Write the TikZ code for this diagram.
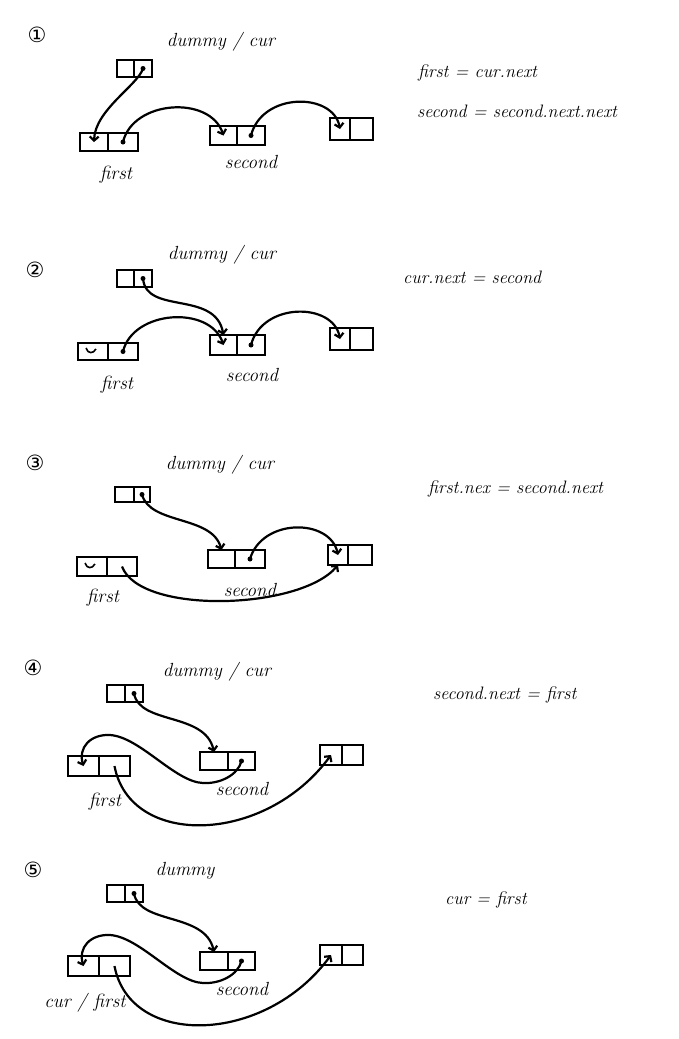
\documentclass[tikz,border=0pt]{standalone}
\usepackage{fontspec}
\newfontfamily\symfont{DejaVu Sans}
\usetikzlibrary{arrows.meta}
\tikzset{
  cell/.style={draw, line width=2pt, inner sep=0pt, outer sep=0pt},
  ptr/.style={line width=2.2pt, -{Straight Barb[length=4pt,width=9pt]}},
  lbl/.style={font=\fontsize{19}{22}\selectfont\itshape, inner sep=0pt},
  eqn/.style={font=\fontsize{18}{21}\selectfont\itshape, inner sep=0pt, anchor=west},
  num/.style={font=\symfont\fontsize{21}{24}\selectfont, inner sep=0pt},
  remnant/.style={line width=1.6pt},
}
% name, left x, divider x, right x, top y, bottom y
\newcommand{\mkbox}[6]{%
  \node[cell, minimum width={(#3)-(#2)}, minimum height={(#6)-(#5)}] (#1a) at ({((#2)+(#3))/2},{((#5)+(#6))/2}) {};
  \node[cell, minimum width={(#4)-(#3)}, minimum height={(#6)-(#5)}] (#1b) at ({((#3)+(#4))/2},{((#5)+(#6))/2}) {};
}
\newcommand{\ptdot}[1]{\fill (#1.center) circle (2.5pt);}
\begin{document}
\begin{tikzpicture}[x=1pt,y=-1pt]
\fill[white] (0,0) rectangle (679,1039);
\useasboundingbox (0,0) rectangle (679,1039);

% ---------------- Panel 1
\node[num] (n1) at (37,35) {①};
\node[lbl] (l1d) at (221,42) {dummy / cur};
\mkbox{p1d}{117}{134}{152}{60}{77}
\mkbox{p1f}{80}{108}{138}{133}{151}
\mkbox{p1s}{210}{237}{265}{126}{145}
\mkbox{p1t}{330}{350}{373}{118}{140}
\ptdot{p1db}\ptdot{p1fb}\ptdot{p1sb}
\draw[ptr] (p1db.center) .. controls (138,85) and (95,110) .. (p1fa.center);
\draw[ptr] (p1fb.center) .. controls (133,100) and (210,95) .. (p1sa.center);
\draw[ptr] (p1sb.center) .. controls (262,92) and (333,92) .. (p1ta.center);
\node[lbl] (l1f) at (116,175) {first};
\node[lbl] (l1s) at (251,162) {second};
\node[eqn] (r1a) at (418,73) {first = cur.next};
\node[eqn] (r1b) at (417,111) {second = second.next.next};

% ---------------- Panel 2
\node[num] (n2) at (35,270) {②};
\node[lbl] (l2d) at (222,255) {dummy / cur};
\mkbox{p2d}{117}{134}{152}{270}{287}
\mkbox{p2f}{78}{108}{138}{343}{360}
\mkbox{p2s}{210}{237}{265}{335}{355}
\mkbox{p2t}{330}{350}{373}{328}{350}
\ptdot{p2db}\ptdot{p2fb}\ptdot{p2sb}
\draw[remnant] (86,348) .. controls (88,354) and (93,354) .. (96,349);
\draw[ptr] (p2db.center) .. controls (146,315) and (215,290) .. (p2sa.north);
\draw[ptr] (p2fb.center) .. controls (133,310) and (210,305) .. (p2sa.center);
\draw[ptr] (p2sb.center) .. controls (262,302) and (333,302) .. (p2ta.center);
\node[lbl] (l2f) at (117,385) {first};
\node[lbl] (l2s) at (252,375) {second};
\node[eqn] (r2a) at (403,277) {cur.next = second};

% ---------------- Panel 3
\node[num] (n3) at (35,463) {③};
\node[lbl] (l3d) at (220,465) {dummy / cur};
\mkbox{p3d}{115}{134}{150}{487}{502}
\mkbox{p3f}{77}{107}{137}{557}{576}
\mkbox{p3s}{208}{235}{265}{550}{568}
\mkbox{p3t}{328}{348}{372}{545}{565}
\ptdot{p3db}\ptdot{p3sb}
\draw[remnant] (85,563) .. controls (87,569) and (92,569) .. (95,564);
\draw[ptr] (p3db.center) .. controls (150,525) and (212,515) .. (p3sa.north);
\draw[ptr] (p3sb.center) .. controls (262,518) and (330,518) .. (p3ta.center);
\draw[ptr] (p3fb.center) .. controls (140,615) and (300,610) .. (p3ta.south);
\node[lbl] (l3f) at (103,598) {first};
\node[lbl] (l3s) at (250,590) {second};
\node[eqn] (r3a) at (428,489) {first.nex = second.next};

% ---------------- Panel 4
\node[num] (n4) at (33,668) {④};
\node[lbl] (l4d) at (217,672) {dummy / cur};
\mkbox{p4d}{107}{125}{143}{685}{702}
\mkbox{p4f}{68}{99}{130}{756}{776}
\mkbox{p4s}{200}{228}{255}{752}{770}
\mkbox{p4t}{320}{342}{363}{745}{765}
\ptdot{p4db}\ptdot{p4sb}
\draw[ptr] (p4db.center) .. controls (140,725) and (205,712) .. (p4sa.north);
\draw[ptr] (p4sb.center) .. controls (238,775) and (220,784) .. (203,783)
   .. controls (175,782) and (140,737) .. (110,735)
   .. controls (90,734) and (78,748) .. (p4fa.center);
\draw[ptr] (p4fb.center) .. controls (130,848) and (265,845) .. (p4ta.center);
\node[lbl] (l4f) at (105,802) {first};
\node[lbl] (l4s) at (242,789) {second};
\node[eqn] (r4a) at (433,695) {second.next = first};

% ---------------- Panel 5
\node[num] (n5) at (33,870) {⑤};
\node[lbl] (l5d) at (185,871) {dummy};
\mkbox{p5d}{107}{125}{143}{885}{902}
\mkbox{p5f}{68}{99}{130}{956}{976}
\mkbox{p5s}{200}{228}{255}{952}{970}
\mkbox{p5t}{320}{342}{363}{945}{965}
\ptdot{p5db}\ptdot{p5sb}
\draw[ptr] (p5db.center) .. controls (140,925) and (205,912) .. (p5sa.north);
\draw[ptr] (p5sb.center) .. controls (238,975) and (220,984) .. (203,983)
   .. controls (175,982) and (140,937) .. (110,935)
   .. controls (90,934) and (78,948) .. (p5fa.center);
\draw[ptr] (p5fb.center) .. controls (130,1048) and (265,1045) .. (p5ta.center);
\node[lbl] (l5f) at (85,1003) {cur / first};
\node[lbl] (l5s) at (242,989) {second};
\node[eqn] (r5a) at (445,900) {cur = first};
\end{tikzpicture}
\end{document}
